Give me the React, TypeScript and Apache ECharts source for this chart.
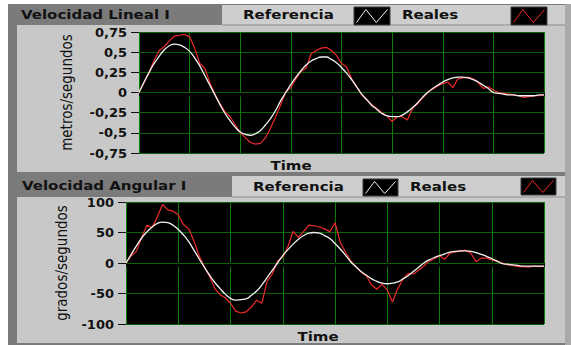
import React, { useEffect, useRef } from "react";
import * as echarts from "echarts";

// Sample step of the time axis (8 divisions, unlabeled)
const T_STEP = 0.1;
const T_MAX = 8;

// Velocidad Lineal I (metros/segundos)
const linealReferencia = [
  0, 0.13, 0.25, 0.36, 0.45, 0.53, 0.58, 0.6, 0.59, 0.56,
  0.51, 0.43, 0.33, 0.21, 0.09, -0.03, -0.15, -0.26, -0.35, -0.43,
  -0.49, -0.52, -0.53, -0.51, -0.47, -0.4, -0.32, -0.22, -0.1, 0.0,
  0.1, 0.19, 0.27, 0.34, 0.39, 0.42, 0.44, 0.44, 0.41, 0.37,
  0.31, 0.24, 0.16, 0.07, -0.02, -0.09, -0.16, -0.21, -0.26, -0.29,
  -0.3, -0.3, -0.28, -0.24, -0.19, -0.13, -0.06, 0.0, 0.05, 0.09,
  0.13, 0.16, 0.18, 0.19, 0.19, 0.18, 0.16, 0.13, 0.09, 0.05,
  0.0, -0.01, -0.02, -0.03, -0.03, -0.04, -0.04, -0.04, -0.04, -0.03,
  -0.03,
];
const linealReales = [
  0, 0.12, 0.25, 0.4, 0.52, 0.57, 0.64, 0.7, 0.71, 0.72,
  0.69, 0.55, 0.36, 0.3, 0.12, -0.02, -0.14, -0.24, -0.3, -0.4,
  -0.5, -0.56, -0.62, -0.64, -0.63, -0.56, -0.44, -0.3, -0.15, 0.01,
  0.06, 0.17, 0.26, 0.3, 0.48, 0.52, 0.55, 0.56, 0.52, 0.46,
  0.36, 0.32, 0.17, 0.07, -0.03, -0.09, -0.15, -0.2, -0.25, -0.29,
  -0.36, -0.3, -0.3, -0.34, -0.2, -0.14, -0.07, 0.0, 0.04, 0.08,
  0.11, 0.13, 0.06, 0.17, 0.18, 0.19, 0.17, 0.12, 0.05, 0.07,
  0.03, 0.0, -0.01, -0.02, -0.03, -0.04, -0.06, -0.05, -0.04, -0.04,
  -0.03,
];
const linealTickLabels = ["-0,75", "-0,5", "-0,25", "0", "0,25", "0,5", "0,75"];

// Velocidad Angular I (grados/segundos)
const angularReferencia = [
  0, 14, 28, 41, 51, 59, 65, 67, 66, 62,
  55, 46, 35, 21, 7, -7, -20, -32, -42, -51,
  -58, -61, -60, -59, -53, -46, -36, -24, -12, 0,
  12, 22, 31, 39, 45, 49, 50, 49, 45, 40,
  32, 23, 13, 2, -6, -14, -20, -26, -30, -33,
  -34, -33, -31, -26, -21, -14, -7, 0, 5, 9,
  12, 15, 18, 19, 20, 20, 19, 17, 14, 11,
  7, 3, -1, -2, -3, -4, -5, -5, -5, -5,
  -5,
];
const angularReales = [
  0, 12, 19, 42, 62, 58, 76, 96, 87, 85,
  79, 63, 56, 36, 12, -6, -22, -42, -52, -57,
  -66, -79, -82, -80, -72, -61, -66, -30, -18, 3,
  10, 27, 52, 42, 52, 62, 61, 59, 56, 51,
  66, 34, 18, 4, -6, -15, -21, -36, -43, -35,
  -44, -64, -42, -27, -17, -18, -12, -5, 3, 7,
  12, 6, 16, 18, 19, 21, 16, 2, 8, 8,
  5, 3, 0, -3, -4, -6, -6, -7, -5, -6,
  -5,
];
const angularTickLabels = ["-100", "-50", "0", "50", "100"];

const titles = ["Velocidad Lineal I", "Velocidad Angular I"];
const legendNames = ["Referencia", "Reales"];
const yNames = ["metros/segundos", "grados/segundos"];
const xName = "Time";

const REF_COLOR = "#f2f2f2";
const REAL_COLOR = "#ec2b2b";
const GRID_V = "#0a7c0a";
const GRID_H = "#0a620a";
const PANEL = "#c8c8c8";
const FRAME = "#7b7b7b";
const BOLD = "DejaVu Sans";

function toPairs(arr: number[]) {
  return arr.map((v, i) => [i * T_STEP, v]);
}

function zigzag(x: number, y: number, w: number, h: number, color: string) {
  return [
    { type: "rect", z: 5, shape: { x, y, width: w, height: h }, style: { fill: "#000", stroke: "#3a3a3a", lineWidth: 1 } },
    {
      type: "polyline",
      z: 6,
      shape: {
        points: [
          [x + 2.5, y + h - 2.5],
          [x + w * 0.33, y + 2.5],
          [x + w * 0.62, y + h - 2.5],
          [x + w - 2.5, y + 2.5],
        ],
      },
      style: { stroke: color, lineWidth: 1, fill: "none" },
    },
  ];
}

function label(text: string, x: number, y: number, align = "left") {
  return {
    type: "text",
    z: 6,
    x,
    y,
    scaleY: 0.8,
    style: {
      text,
      x: 0,
      y: 0,
      fill: "#111",
      font: `bold 15px "${BOLD}"`,
      align,
      verticalAlign: "middle",
    },
  };
}

export default function App() {
  const ref = useRef<HTMLDivElement>(null);
  useEffect(() => {
    if (!ref.current) return;
    const chart = echarts.init(ref.current, undefined, { renderer: "svg" });

    const xAxisBase = (gridIndex: number) => ({
      type: "value",
      gridIndex,
      min: 0,
      max: T_MAX,
      interval: 1,
      offset: 1,
      axisLine: { show: false },
      axisTick: { show: true, length: 4, lineStyle: { color: "#111", width: 1 } },
      axisLabel: { show: false },
      splitLine: { show: true, lineStyle: { color: GRID_V, width: 1 } },
    });

    const yAxisBase = (gridIndex: number, min: number, max: number, interval: number, labels: string[], name: string, nameGap: number) => ({
      type: "value",
      gridIndex,
      min,
      max,
      interval,
      offset: 2,
      name,
      nameLocation: "middle",
      nameRotate: 90,
      nameGap,
      nameTextStyle: { fontFamily: "DejaVu Sans Condensed", fontSize: 15, color: "#111" },
      axisLine: { show: false },
      axisTick: { show: true, length: 8, lineStyle: { color: "#111", width: 1 } },
      axisLabel: {
        margin: 10,
        fontFamily: BOLD,
        fontWeight: "bold",
        fontSize: 13,
        color: "#111",
        formatter: (v: number) => labels[Math.round((v - min) / interval)] ?? "",
      },
      splitLine: { show: true, lineStyle: { color: GRID_H, width: 1 } },
    });

    const graphic: any[] = [
      // frame and panels
      { type: "rect", z: -20, shape: { x: 8, y: 4, width: 563, height: 341 }, style: { fill: FRAME } },
      { type: "rect", z: -19, shape: { x: 17, y: 25, width: 548, height: 147 }, style: { fill: PANEL } },
      { type: "rect", z: -19, shape: { x: 222, y: 5, width: 343, height: 20 }, style: { fill: "#cecece" } },
      { type: "rect", z: -19, shape: { x: 17, y: 197, width: 548, height: 146 }, style: { fill: PANEL } },
      { type: "rect", z: -19, shape: { x: 232, y: 176, width: 333, height: 21 }, style: { fill: "#cecece" } },
      { type: "rect", z: -19, shape: { x: 565, y: 4, width: 6, height: 341 }, style: { fill: "#a9a9a9" } },
      { type: "line", z: -18, shape: { x1: 222, y1: 25, x2: 565, y2: 25 }, style: { stroke: "#8c8c8c", lineWidth: 1 } },
      { type: "line", z: -18, shape: { x1: 232, y1: 197, x2: 565, y2: 197 }, style: { stroke: "#8c8c8c", lineWidth: 1 } },
      // titles
      label(titles[0], 21, 15),
      label(titles[1], 22, 186),
      // legends
      label(legendNames[0], 243, 15),
      ...zigzag(354, 7, 36, 18, REF_COLOR),
      label(legendNames[1], 402, 15),
      ...zigzag(511, 7, 36, 18, REAL_COLOR),
      label(legendNames[0], 253, 187),
      ...zigzag(363, 179, 35, 17, REF_COLOR),
      label(legendNames[1], 410, 187),
      ...zigzag(521, 178, 35, 17, REAL_COLOR),
      // x axis names
      label(xName, 291, 166, "center"),
      label(xName, 318, 337, "center"),
    ];

    chart.setOption({
      animation: false,
      grid: [
        { left: 139, top: 32, width: 405, height: 121, show: true, backgroundColor: "#000", borderWidth: 0, outerBoundsMode: "none" },
        { left: 126, top: 202, width: 418, height: 122, show: true, backgroundColor: "#000", borderWidth: 0, outerBoundsMode: "none" },
      ],
      xAxis: [xAxisBase(0), xAxisBase(1)],
      yAxis: [
        yAxisBase(0, -0.75, 0.75, 0.25, linealTickLabels, yNames[0], 63),
        yAxisBase(1, -100, 100, 50, angularTickLabels, yNames[1], 55),
      ],
      graphic,
      series: [
        { name: legendNames[1], type: "line", xAxisIndex: 0, yAxisIndex: 0, data: toPairs(linealReales), showSymbol: false, lineStyle: { color: REAL_COLOR, width: 1.2 }, z: 3 },
        { name: legendNames[0], type: "line", xAxisIndex: 0, yAxisIndex: 0, data: toPairs(linealReferencia), smooth: true, showSymbol: false, lineStyle: { color: REF_COLOR, width: 1.3 }, z: 4 },
        { name: legendNames[1], type: "line", xAxisIndex: 1, yAxisIndex: 1, data: toPairs(angularReales), showSymbol: false, lineStyle: { color: REAL_COLOR, width: 1.2 }, z: 3 },
        { name: legendNames[0], type: "line", xAxisIndex: 1, yAxisIndex: 1, data: toPairs(angularReferencia), smooth: true, showSymbol: false, lineStyle: { color: REF_COLOR, width: 1.3 }, z: 4 },
      ],
    });
    return () => chart.dispose();
  }, []);

  return (
    <div
      ref={ref}
      style={{ position: "fixed", left: 0, top: 0, width: 571, height: 345, background: "#fff" }}
    />
  );
}
